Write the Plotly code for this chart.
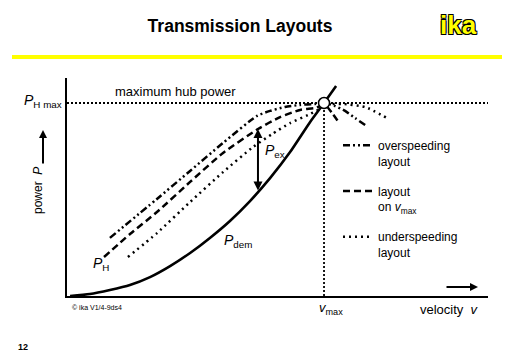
import numpy as np
import plotly.graph_objects as go

# ---------------- data (normalised: velocity / v_max, power / P_H,max) ----------------
V_MAX = 1.0
P_H_MAX = 1.0
V_EX = 0.743          # velocity at which the excess power P_ex is shown

dem_v = [0.012, 0.089, 0.167, 0.245, 0.323, 0.401, 0.479, 0.556, 0.634, 0.712, 0.790, 0.868, 0.946, 1.000, 1.047]
dem_p = [0.000, 0.010, 0.031, 0.057, 0.098, 0.155, 0.223, 0.301, 0.389, 0.492, 0.611, 0.746, 0.902, 1.000, 1.088]

over_v = [0.167, 0.350, 0.479, 0.607, 0.739, 0.790, 0.848, 0.907, 0.965, 1.004, 1.043, 1.082, 1.121, 1.160]
over_p = [0.301, 0.503, 0.648, 0.793, 0.933, 0.959, 0.979, 0.990, 0.995, 1.000, 0.984, 0.959, 0.922, 0.886]

on_v = [0.144, 0.245, 0.350, 0.479, 0.607, 0.743, 0.829, 0.907, 0.965, 1.004, 1.031, 1.062]
on_p = [0.202, 0.321, 0.435, 0.591, 0.741, 0.865, 0.927, 0.964, 0.974, 0.990, 0.948, 0.891]

under_v = [0.237, 0.350, 0.479, 0.607, 0.724, 0.798, 0.868, 0.938, 0.977, 1.004, 1.070, 1.160, 1.245]
under_p = [0.202, 0.326, 0.487, 0.642, 0.772, 0.839, 0.896, 0.938, 0.964, 0.990, 0.995, 0.979, 0.922]

legend_names = ["overspeeding<br>layout",
                "layout<br>on <i>v</i><sub>max</sub>",
                "underspeeding<br>layout"]

X_RANGE = [0, 1.638]
Y_RANGE = [0, 1.1295]

# ---------------- layout geometry ----------------
W, H = 512, 354
ML, MR, MT, MB = 67, 24, 78, 58
PW, PH = W - ML - MR, H - MT - MB
FONT = "Liberation Sans, Arial, sans-serif"


def fx(px):
    return (px - ML) / PW


def fy(py):
    return (H - MB - py) / PH


fig = go.Figure()

LW = 2.5
fig.add_trace(go.Scatter(x=dem_v, y=dem_p, mode="lines", showlegend=False,
                         line=dict(color="black", width=2.6, shape="spline", smoothing=0.6)))
fig.add_trace(go.Scatter(x=over_v, y=over_p, mode="lines", name=legend_names[0], legendgroup="a",
                         line=dict(color="black", width=LW, dash="7px,3px,2px,3px,2px,3px",
                                   shape="spline", smoothing=0.6)))
fig.add_trace(go.Scatter(x=on_v, y=on_p, mode="lines", name=legend_names[1], legendgroup="b",
                         line=dict(color="black", width=LW, dash="7px,4px", shape="spline", smoothing=0.6)))
fig.add_trace(go.Scatter(x=under_v, y=under_p, mode="lines", name=legend_names[2], legendgroup="c",
                         line=dict(color="black", width=LW, dash="2px,4px", shape="spline", smoothing=0.6)))

# operating point (v_max, P_H,max)
fig.add_trace(go.Scatter(x=[V_MAX], y=[P_H_MAX], mode="markers", showlegend=False,
                         marker=dict(symbol="circle", size=11, color="white",
                                     line=dict(color="black", width=1.5))))

shapes = [
    dict(type="line", xref="x", yref="y", x0=0, x1=X_RANGE[1], y0=P_H_MAX, y1=P_H_MAX,
         line=dict(color="black", width=1.8, dash="2px,2px"), layer="below"),
    dict(type="line", xref="x", yref="y", x0=V_MAX, x1=V_MAX, y0=0, y1=P_H_MAX,
         line=dict(color="black", width=1.8, dash="2px,2px"), layer="below"),
    dict(type="line", xref="paper", yref="paper", x0=fx(12), x1=fx(502), y0=fy(57), y1=fy(57),
         line=dict(color="#FFFF00", width=4)),
]

p_top = float(np.interp(V_EX, on_v, on_p))
p_bot = float(np.interp(V_EX, dem_v, dem_p))

txt = dict(color="black", family=FONT)


def label(px, py, text, size, anchor="center", **kw):
    return dict(xref="paper", yref="paper", x=fx(px), y=fy(py), xanchor=anchor, yanchor="middle",
                text=text, showarrow=False, font=kw.pop("font", dict(size=size, **txt)), **kw)


annotations = [
    label(458, 25, "<b>ika</b>", 26,
          font=dict(size=26, color="#FFFF00", family=FONT,
                    shadow="1px 1px 0 #000, -1px -1px 0 #000, 1px -1px 0 #000, -1px 1px 0 #000")),
    label(113, 92, "maximum hub power", 13, anchor="left"),
    label(22, 101, "<i>P</i><sub>H max</sub>", 14, anchor="left"),
    label(38, 191, "power  <i>P</i>", 12, textangle=-90),
    dict(xref="paper", yref="paper", x=fx(43), y=fy(130), text="", showarrow=True, ax=0, ay=35,
         arrowhead=2, arrowwidth=2, arrowsize=0.8, arrowcolor="black", standoff=0),
    dict(xref="paper", yref="paper", x=fx(478), y=fy(287), text="", showarrow=True, ax=-33, ay=0,
         arrowhead=2, arrowwidth=2, arrowsize=0.8, arrowcolor="black", standoff=0),
    dict(xref="x", yref="y", axref="x", ayref="y", x=V_EX, y=p_top, ax=V_EX, ay=p_bot, text="",
         showarrow=True, arrowside="end+start", arrowhead=2, startarrowhead=2, arrowwidth=2,
         arrowsize=0.9, startarrowsize=0.9, arrowcolor="black", standoff=0, startstandoff=0),
    label(263, 151, "<i>P</i><sub>ex</sub>", 14, anchor="left"),
    label(222, 241, "<i>P</i><sub>dem</sub>", 14, anchor="left"),
    label(91, 264, "<i>P</i><sub>H</sub>", 14, anchor="left"),
    label(317, 308, "<i>v</i><sub>max</sub>", 13, anchor="left"),
    label(418, 309, "velocity  <i>v</i>", 13, anchor="left"),
    label(70, 307, "© ika V1/4-9ds4", 7, anchor="left"),
    label(16, 347, "<b>12</b>", 9, anchor="left"),
]

fig.update_layout(
    width=W, height=H,
    margin=dict(l=ML, r=MR, t=MT, b=MB),
    paper_bgcolor="white", plot_bgcolor="white",
    title=dict(text="<b>Transmission Layouts</b>", xref="container", yref="container",
               x=240 / W, y=1 - 26 / H, xanchor="center", yanchor="middle",
               font=dict(size=17.5, color="black", family=FONT)),
    xaxis=dict(range=X_RANGE, showgrid=False, zeroline=False, showticklabels=False, ticks="",
               showline=True, linecolor="black", linewidth=2, fixedrange=True),
    yaxis=dict(range=Y_RANGE, showgrid=False, zeroline=False, showticklabels=False, ticks="",
               showline=True, linecolor="black", linewidth=2, fixedrange=True),
    showlegend=True,
    legend=dict(x=fx(338), y=fy(131), xanchor="left", yanchor="top", valign="top",
                bgcolor="rgba(0,0,0,0)", font=dict(size=12, color="black", family=FONT),
                tracegroupgap=11.5, itemwidth=30),
    shapes=shapes, annotations=annotations,
    hovermode=False,
)

fig.write_html("out.html", config={"displayModeBar": False})
